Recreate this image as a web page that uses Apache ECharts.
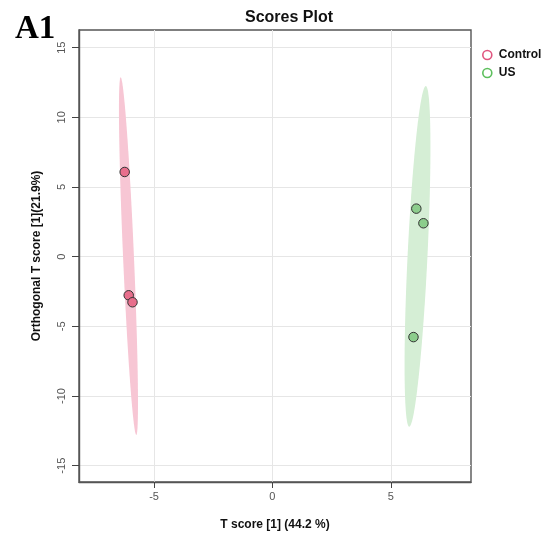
<!DOCTYPE html>
<html><head><meta charset="utf-8">
<script src="https://cdn.jsdelivr.net/npm/echarts@6/dist/echarts.min.js"></script>
<style>html,body{margin:0;padding:0;background:#fff}#c{width:544px;height:541px}</style>
</head><body><div id="c"></div>
<script>
const groups = ['Control', 'US'];
const controlX = [-6.24, -6.07, -5.91];
const controlY = [6.08, -2.77, -3.27];
const usX = [6.08, 6.38, 5.96];
const usY = [3.45, 2.40, -5.77];
const xTicks = [-5, 0, 5];
const yTicks = [-15, -10, -5, 0, 5, 10, 15];
const xRange = [-8.17, 8.39];
const yRange = [-16.17, 16.27];
// ellipse: tips of major axis (top, bottom) and half minor axis
const controlEllipseTips = [[-6.41, 12.88], [-5.75, -12.8]];
const controlEllipseHalfWidth = [0.23];
const usEllipseTips = [[6.48, 12.25], [5.78, -12.2]];
const usEllipseHalfWidth = [0.42];

const FONT = "'Liberation Sans', Arial, sans-serif";

function ellipsePoints(tips, b) {
  const cx = (tips[0][0] + tips[1][0]) / 2, cy = (tips[0][1] + tips[1][1]) / 2;
  const ux = (tips[0][0] - tips[1][0]) / 2, uy = (tips[0][1] - tips[1][1]) / 2;
  const len = Math.hypot(ux, uy);
  const vx = uy / len * b, vy = -ux / len * b;
  const pts = [];
  for (let i = 0; i < 120; i++) {
    const t = i / 120 * Math.PI * 2;
    pts.push([cx + ux * Math.cos(t) + vx * Math.sin(t), cy + uy * Math.cos(t) + vy * Math.sin(t)]);
  }
  return pts;
}

function ellipseSeries(name, tips, b, color) {
  const pts = ellipsePoints(tips, b[0]);
  return {
    name: name, type: 'custom', silent: true, z: 1,
    data: pts,
    renderItem: function (params, api) {
      if (params.dataIndex !== 0) return null;
      const poly = pts.map(p => api.coord(p));
      return { type: 'polygon', shape: { points: poly }, style: { fill: color } };
    }
  };
}

const zip = (a, b) => a.map((v, i) => [v, b[i]]);

const chart = echarts.init(document.getElementById('c'), null, { renderer: 'canvas' });
chart.setOption({
  animation: false,
  backgroundColor: '#fff',
  title: {
    text: 'Scores Plot', left: 240, top: 5,
    textStyle: { fontFamily: FONT, fontWeight: 'bold', fontSize: 16, color: '#111' }
  },
  graphic: [{
    type: 'text', left: 15, top: 13,
    style: { text: 'A1', font: "bold 33px 'Liberation Serif', 'Times New Roman', serif", fill: '#000' }
  }],
  legend: {
    orient: 'vertical', left: 482, top: 49, padding: 0, itemWidth: 13, itemHeight: 9, itemGap: 6,
    textStyle: { fontFamily: FONT, fontWeight: 'bold', fontSize: 12, color: '#111' },
    data: [
      { name: groups[0], icon: 'circle', itemStyle: { color: 'rgba(0,0,0,0)', borderColor: '#e0557f', borderWidth: 1.6 } },
      { name: groups[1], icon: 'circle', itemStyle: { color: 'rgba(0,0,0,0)', borderColor: '#5cbf5c', borderWidth: 1.6 } }
    ]
  },
  grid: { left: 79, top: 30, right: 73, bottom: 59, show: true, borderColor: '#555', borderWidth: 1.4, backgroundColor: 'transparent' },
  xAxis: {
    type: 'value', min: xRange[0], max: xRange[1],
    name: 'T score [1] (44.2 %)', nameLocation: 'middle', nameGap: 37,
    nameTextStyle: { fontFamily: FONT, fontWeight: 'bold', fontSize: 12, color: '#111' },
    axisLine: { show: true, onZero: false, lineStyle: { color: '#555', width: 1.4 } },
    axisTick: { show: true, inside: false, length: 6, customValues: xTicks, lineStyle: { color: '#444', width: 1 } },
    axisLabel: { customValues: xTicks, margin: 9, fontFamily: FONT, fontSize: 11, color: '#555' },
    splitLine: { show: true, lineStyle: { color: '#e6e6e6', width: 1 } }
  },
  yAxis: {
    type: 'value', min: yRange[0], max: yRange[1],
    name: 'Orthogonal T score [1](21.9%)', nameLocation: 'middle', nameGap: 36,
    nameTextStyle: { fontFamily: FONT, fontWeight: 'bold', fontSize: 12, color: '#111' },
    axisLine: { show: true, onZero: false, lineStyle: { color: '#555', width: 1.4 } },
    axisTick: { show: true, inside: false, length: 7, customValues: yTicks, lineStyle: { color: '#444', width: 1 } },
    axisLabel: { customValues: yTicks, rotate: 90, margin: 12, fontFamily: FONT, fontSize: 11, color: '#555' },
    splitLine: { show: true, lineStyle: { color: '#e6e6e6', width: 1 } }
  },
  series: [
    ellipseSeries('Control ellipse', controlEllipseTips, controlEllipseHalfWidth, '#f7c6d4'),
    ellipseSeries('US ellipse', usEllipseTips, usEllipseHalfWidth, '#d5eed5'),
    {
      name: groups[0], type: 'scatter', z: 3, symbol: 'circle', symbolSize: 9.5,
      itemStyle: { color: '#e86e8c', borderColor: '#333', borderWidth: 1, opacity: 1 },
      data: zip(controlX, controlY)
    },
    {
      name: groups[1], type: 'scatter', z: 3, symbol: 'circle', symbolSize: 9.5,
      itemStyle: { color: '#8ccd8c', borderColor: '#333', borderWidth: 1, opacity: 1 },
      data: zip(usX, usY)
    }
  ]
});
</script></body></html>
